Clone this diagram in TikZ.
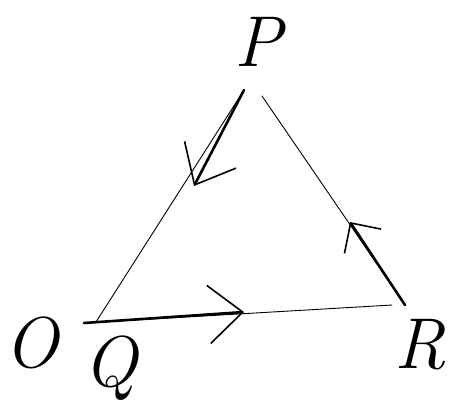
\documentclass[tikz,border=0pt]{standalone}
\usetikzlibrary{arrows.meta}
\begin{document}
\begin{tikzpicture}[x=1pt,y=-1pt,
  edge/.style={line width=0.9pt,line cap=round},
  flow/.style={line width=2.6pt,line cap=round,-{Straight Barb[length=34pt,width=58pt,line width=1.6pt]}},
  flowsm/.style={line width=2.6pt,line cap=round,-{Straight Barb[length=22pt,width=44pt,line width=1.6pt]}},
  lbl/.style={font=\fontsize{72}{72}\selectfont\itshape,inner sep=0pt}]
\useasboundingbox (0,0) rectangle (452,399);
% vertices
\coordinate (Pt) at (244,90);
\coordinate (Pr) at (262,96);
\coordinate (Q) at (96,322);
\coordinate (Qb) at (84,323);
\coordinate (R) at (392,305);
\coordinate (Rr) at (405,305);
\coordinate (A1) at (194,186);
\coordinate (A2) at (244,312);
\coordinate (A3) at (350,222);
% sides
\draw[edge] (Pt) -- (Q);
\draw[edge] (Pr) -- (Rr);
\draw[edge] (Qb) -- (R);
% direction arrows
\draw[flow] (Pt) -- (A1);
\draw[flow] (Qb) -- (A2);
\draw[flowsm] (Rr) -- (A3);
% labels
\node[lbl] (lP) at (258,42) {P};
\node[lbl] (lO) at (32,343) {O};
\node[lbl] (lQ) at (110,368) {Q};
\node[lbl] (lR) at (420,345) {R};
\end{tikzpicture}
\end{document}
